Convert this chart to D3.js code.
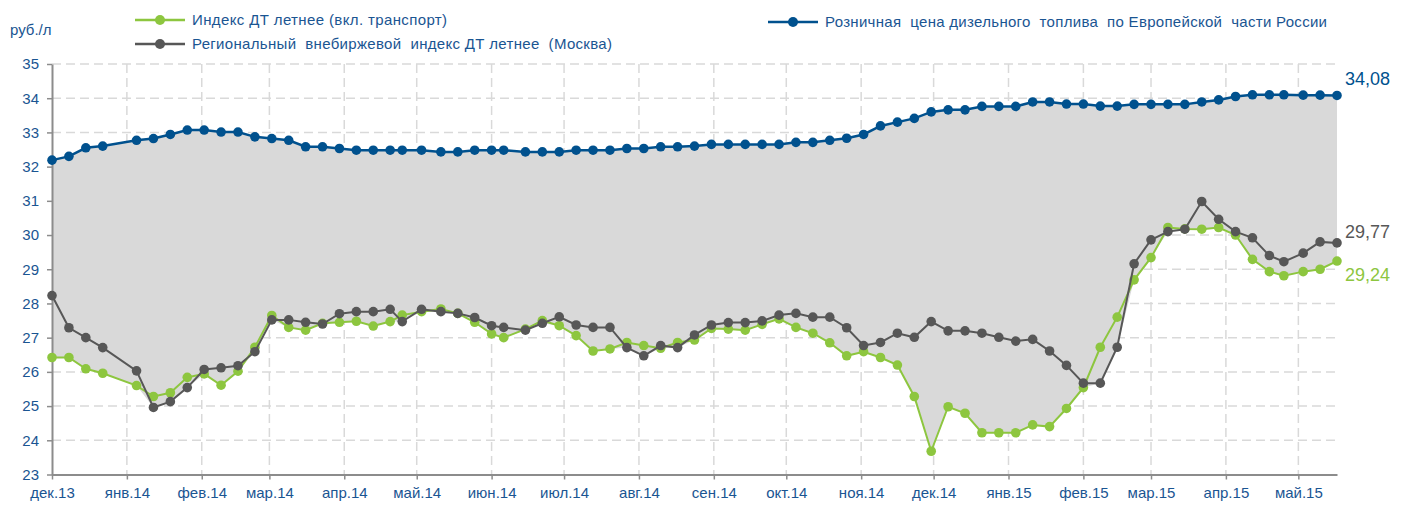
<!DOCTYPE html>
<html>
<head>
<meta charset="utf-8">
<script src="https://cdn.jsdelivr.net/npm/d3@7"></script>
<style>
  body { margin: 0; background: #fff; }
  svg text { font-family: "Liberation Sans Narrow", "Arial Narrow", "Liberation Sans", Arial, sans-serif; }
</style>
</head>
<body>
<script>
const w = 1409;
const h = 506;

// weekly dates (Excel date axis)
const dates = ["2013-12-01","2013-12-08","2013-12-15","2013-12-22","2014-01-05","2014-01-12","2014-01-19","2014-01-26",
  "2014-02-02","2014-02-09","2014-02-16","2014-02-23","2014-03-02","2014-03-09","2014-03-16","2014-03-23","2014-03-30",
  "2014-04-06","2014-04-13","2014-04-20","2014-04-25","2014-05-03","2014-05-11","2014-05-18","2014-05-25","2014-06-01",
  "2014-06-06","2014-06-15","2014-06-22","2014-06-29","2014-07-06","2014-07-13","2014-07-20","2014-07-27","2014-08-03",
  "2014-08-10","2014-08-17","2014-08-24","2014-08-31","2014-09-07","2014-09-14","2014-09-21","2014-09-28","2014-10-05",
  "2014-10-12","2014-10-19","2014-10-26","2014-11-02","2014-11-09","2014-11-16","2014-11-23","2014-11-30","2014-12-07",
  "2014-12-14","2014-12-21","2014-12-28","2015-01-04","2015-01-11","2015-01-18","2015-01-25","2015-02-01","2015-02-08",
  "2015-02-15","2015-02-22","2015-03-01","2015-03-08","2015-03-15","2015-03-22","2015-03-29","2015-04-05","2015-04-12",
  "2015-04-19","2015-04-25","2015-05-03","2015-05-10","2015-05-17"];

const retail = [32.19,32.30,32.55,32.60,32.77,32.82,32.94,33.07,33.07,33.01,33.01,32.87,32.82,32.77,32.58,32.58,32.53,
  32.48,32.48,32.48,32.48,32.48,32.43,32.43,32.48,32.48,32.48,32.43,32.43,32.43,32.48,32.48,32.48,32.53,32.53,32.58,
  32.58,32.60,32.65,32.65,32.65,32.65,32.65,32.71,32.71,32.77,32.83,32.94,33.19,33.30,33.41,33.60,33.66,33.66,33.76,
  33.76,33.76,33.89,33.89,33.83,33.83,33.77,33.77,33.82,33.82,33.82,33.82,33.89,33.95,34.05,34.10,34.10,34.10,34.09,
  34.09,34.08];

const summerIdx = [26.42,26.42,26.09,25.96,25.60,25.28,25.39,25.84,25.94,25.61,26.02,26.72,27.65,27.30,27.22,27.42,27.45,
  27.48,27.34,27.47,27.66,27.76,27.84,27.71,27.45,27.11,27.00,27.25,27.50,27.35,27.06,26.61,26.67,26.86,26.77,26.69,
  26.86,26.93,27.27,27.25,27.22,27.39,27.55,27.30,27.13,26.85,26.47,26.59,26.42,26.20,25.28,23.68,24.98,24.79,24.22,
  24.22,24.22,24.45,24.40,24.93,25.54,26.72,27.60,28.69,29.34,30.22,30.18,30.17,30.22,30.00,29.29,28.93,28.81,28.93,
  29.00,29.24];

const regional = [28.23,27.29,27.00,26.71,26.03,24.96,25.13,25.54,26.07,26.12,26.18,26.59,27.52,27.52,27.45,27.40,27.70,
  27.76,27.76,27.83,27.47,27.83,27.76,27.71,27.59,27.35,27.30,27.22,27.42,27.61,27.37,27.30,27.30,26.71,26.47,26.77,
  26.71,27.08,27.37,27.44,27.44,27.49,27.66,27.71,27.60,27.60,27.29,26.77,26.86,27.13,27.01,27.47,27.20,27.20,27.13,
  27.01,26.90,26.95,26.61,26.19,25.67,25.67,26.72,29.16,29.86,30.10,30.17,30.98,30.46,30.10,29.92,29.40,29.22,29.47,
  29.80,29.77];

const monthNames = ["янв","фев","мар","апр","май","июн","июл","авг","сен","окт","ноя","дек"];
const yTicks = [23,24,25,26,27,28,29,30,31,32,33,34,35];

const seriesNames = ["Индекс ДТ летнее (вкл. транспорт)",
                     "Региональный  внебиржевой  индекс ДТ летнее  (Москва)",
                     "Розничная  цена дизельного  топлива  по Европейской  части России"];
const unitLabel = "руб./л";

const blue = "#00518e", green = "#8dc63f", grey = "#575757", area = "#d9d9d9";
const textBlue = "#1a5592";

const parse = d3.timeParse("%Y-%m-%d");
const data = dates.map((d, i) => ({
  date: parse(d), r: retail[i], g: summerIdx[i], k: regional[i]
}));

const x = d3.scaleTime()
  .domain([parse("2013-12-01"), data[data.length - 1].date])
  .range([52, 1337]);
const y = d3.scaleLinear().domain([23, 35]).range([474.5, 64]);

const svg = d3.select('body').append('svg')
  .attr('width', w).attr('height', h);

// grid
const monthTicks = d3.timeMonth.range(parse("2013-12-01"), data[data.length - 1].date);
const grid = svg.append('g').attr('stroke', '#d9d9d9').attr('stroke-width', 1.5)
  .attr('stroke-dasharray', '9,5');
grid.selectAll('.hg').data(yTicks.slice(1)).enter().append('line')
  .attr('x1', x.range()[0]).attr('x2', x.range()[1])
  .attr('y1', d => y(d)).attr('y2', d => y(d));
grid.selectAll('.vg').data(monthTicks.slice(1)).enter().append('line')
  .attr('x1', d => x(d)).attr('x2', d => x(d))
  .attr('y1', y(35)).attr('y2', y(23));

// shaded band between retail price and the lower of two indices
svg.append('path').datum(data)
  .attr('fill', area)
  .attr('d', d3.area()
    .x(d => x(d.date))
    .y0(d => y(Math.min(d.g, d.k)))
    .y1(d => y(d.r)));

// axes
const xAxis = svg.append('g').attr('transform', `translate(0,${y(23)})`)
  .call(d3.axisBottom(x).tickValues(monthTicks).tickSize(5).tickSizeOuter(0)
    .tickFormat(d => monthNames[d.getMonth()] + '.' + d3.timeFormat('%y')(d)));
const yAxis = svg.append('g').attr('transform', `translate(${x.range()[0]},0)`)
  .call(d3.axisLeft(y).tickValues(yTicks).tickSize(5).tickSizeOuter(0).tickPadding(8));
[xAxis, yAxis].forEach(a => {
  a.select('.domain').attr('stroke', '#8c8c8c').attr('stroke-width', 2);
  a.selectAll('.tick line').attr('stroke', '#8c8c8c').attr('stroke-width', 1.5);
  a.selectAll('text').attr('fill', textBlue).style('font-size', '15px');
});
xAxis.selectAll('text').attr('dy', '1.05em');

// series
const series = [
  { key: 'g', color: green, width: 2 },
  { key: 'k', color: grey, width: 2 },
  { key: 'r', color: blue, width: 2.5 }
];
series.forEach(s => {
  svg.append('path').datum(data)
    .attr('fill', 'none').attr('stroke', s.color).attr('stroke-width', s.width)
    .attr('d', d3.line().x(d => x(d.date)).y(d => y(d[s.key])));
  svg.append('g').selectAll('circle').data(data).enter().append('circle')
    .attr('cx', d => x(d.date)).attr('cy', d => y(d[s.key]))
    .attr('r', 4.8).attr('fill', s.color);
});

// end labels
const last = data[data.length - 1];
const fmt = v => v.toFixed(2).replace('.', ',');
[{ v: last.r, c: blue, dy: -10 }, { v: last.k, c: grey, dy: -5 }, { v: last.g, c: green, dy: 20 }]
  .forEach(l => {
    svg.append('text').attr('x', x(last.date) + 8).attr('y', y(l.v) + l.dy)
      .attr('fill', l.c).style('font-size', '18px').text(fmt(l.v));
  });

// unit
svg.append('text').attr('x', 10).attr('y', 35).attr('fill', textBlue)
  .style('font-size', '15px').text(unitLabel);

// legend
const legend = [
  { name: seriesNames[0], color: green, x: 135, y: 20, w: 255 },
  { name: seriesNames[1], color: grey, x: 135, y: 44, w: 420 },
  { name: seriesNames[2], color: blue, x: 768, y: 22, w: 502 }
];
legend.forEach(l => {
  const g = svg.append('g').attr('transform', `translate(${l.x},${l.y})`);
  g.append('line').attr('x1', 0).attr('x2', 50).attr('stroke', l.color).attr('stroke-width', 2.5);
  g.append('circle').attr('cx', 25).attr('r', 5).attr('fill', l.color);
  g.append('text').attr('x', 57).attr('y', 5).attr('fill', textBlue)
    .attr('textLength', l.w).attr('lengthAdjust', 'spacing')
    .style('font-size', '15px').style('white-space', 'pre').text(l.name);
});
</script>
</body>
</html>
